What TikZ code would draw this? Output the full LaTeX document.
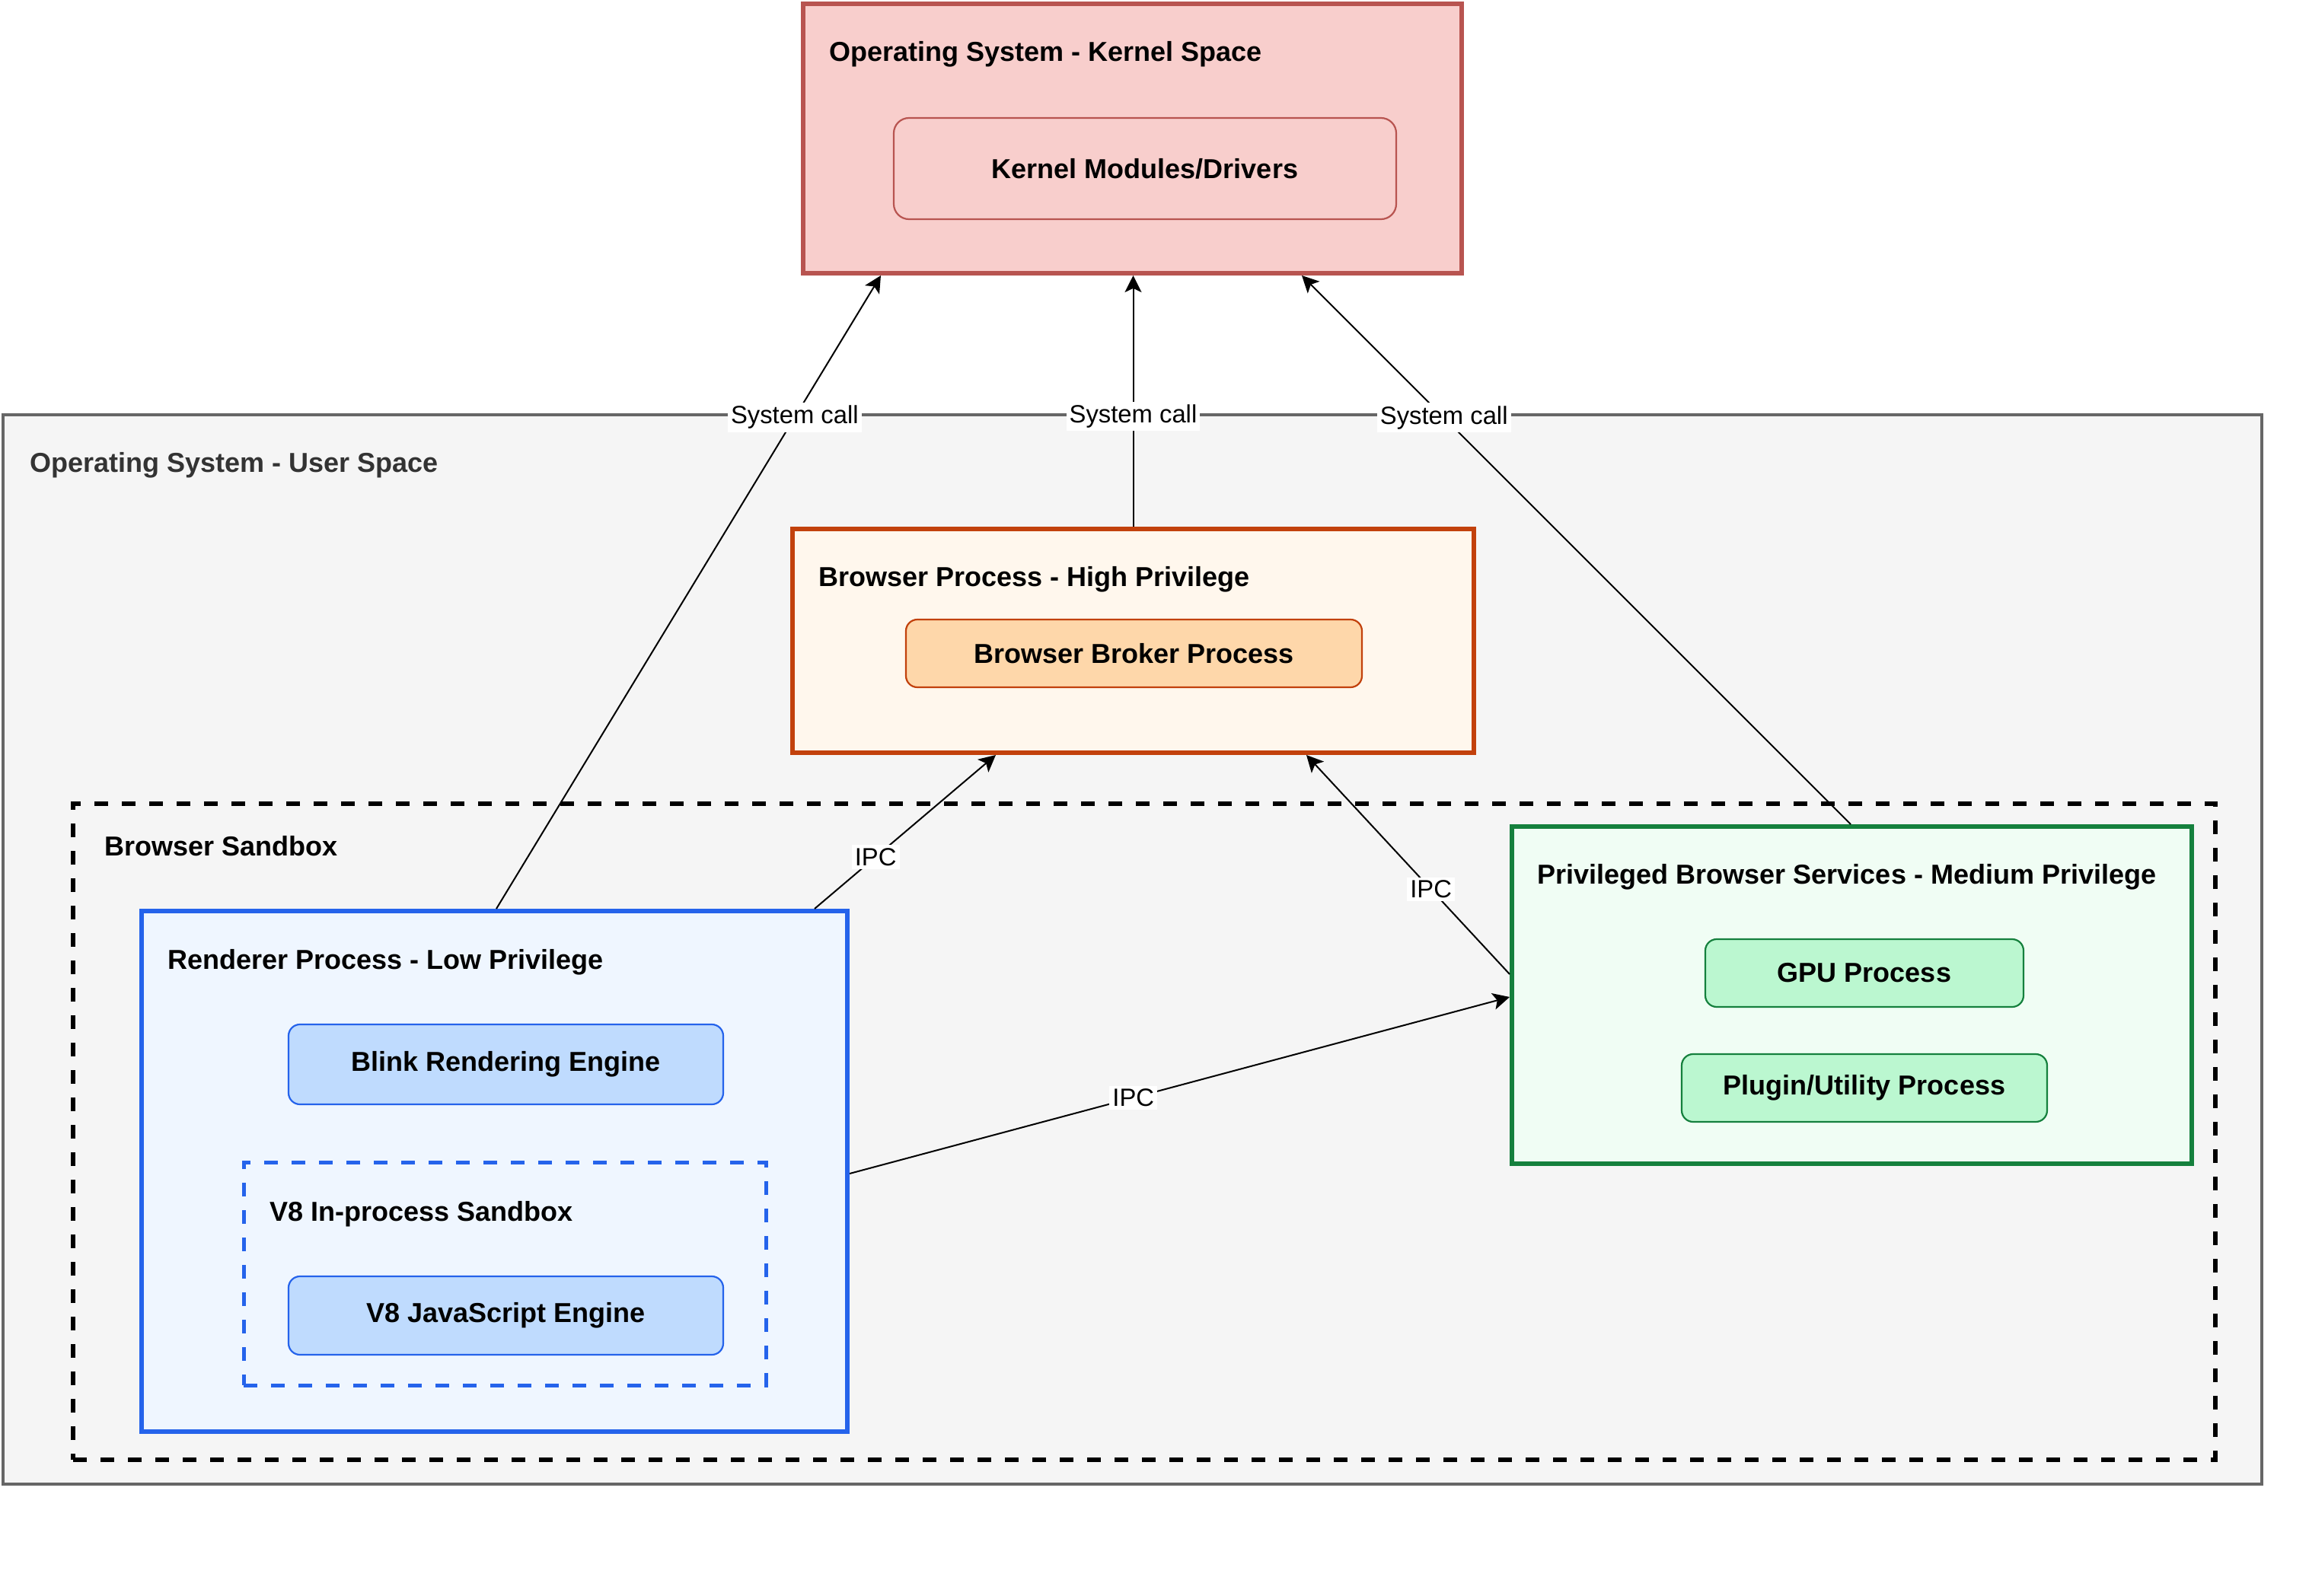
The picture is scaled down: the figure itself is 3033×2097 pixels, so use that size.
\documentclass[tikz,border=0pt]{standalone}
\usepackage{fontspec}
\setmainfont{Liberation Sans}
\usetikzlibrary{fit,arrows.meta}
\definecolor{kernFill}{HTML}{F8CECC}
\definecolor{kernDraw}{HTML}{B85450}
\definecolor{userFill}{HTML}{F5F5F5}
\definecolor{userDraw}{HTML}{666666}
\definecolor{userText}{HTML}{333333}
\definecolor{browFill}{HTML}{FFF7ED}
\definecolor{browDraw}{HTML}{C2410C}
\definecolor{brokFill}{HTML}{FED7AA}
\definecolor{rendFill}{HTML}{EFF6FF}
\definecolor{rendDraw}{HTML}{2563EB}
\definecolor{blinkFill}{HTML}{BFDBFE}
\definecolor{privFill}{HTML}{F0FDF4}
\definecolor{privDraw}{HTML}{15803D}
\definecolor{gpuFill}{HTML}{BBF7D0}
\tikzset{
  region/.style={rectangle, inner sep=0pt, line width=1.5pt},
  inbox/.style={rectangle, inner sep=0pt, line width=0.55pt, rounded corners=3.75pt,
    font=\fontsize{9}{11}\selectfont\bfseries},
  ttl/.style={anchor=mid west, inner sep=0pt, font=\fontsize{9}{11}\selectfont\bfseries},
  arr/.style={line width=0.5pt, -{Stealth[length=5.5pt,width=5.5pt,inset=1.3pt]}},
  lab/.style={fill=white, inner sep=1pt, font=\fontsize{8.2}{10}\selectfont}
}
\begin{document}
\begin{tikzpicture}[x=0.25pt,y=-0.25pt]
\useasboundingbox (0,0) rectangle (3033,2097);
\fill[white] (0,0) rectangle (3033,2097);

% helper x positions
\coordinate (xa) at (652,0);
\coordinate (xb) at (1157,0);
\coordinate (xc) at (2431,0);
\coordinate (xd) at (1710,0);
\coordinate (xe) at (1070,0);
\coordinate (xf) at (1308,0);
\coordinate (xg) at (1716,0);
\coordinate (ya) at (0,1280);
\coordinate (yb) at (0,1542);
\coordinate (yc) at (0,1310);

% kernel space
\node[region, draw=kernDraw, fill=kernFill, fit={(1055,5) (1920,359)}] (kern) {};
\node[ttl] (kernT) at (1089,70) {Operating System - Kernel Space};
\node[inbox, draw=kernDraw, fill=kernFill, rounded corners=5pt, fit={(1174,155) (1834,288)}] (kmod) {};
\node[font=\fontsize{9}{11}\selectfont\bfseries] (kmodT) at (kmod.center) {Kernel Modules/Drivers};

% user space
\node[region, line width=1.2pt, draw=userDraw, fill=userFill, fit={(4,545) (2971,1950)}] (user) {};
\node[ttl, text=userText] (userT) at (39,610) {Operating System - User Space};

% browser process
\node[region, draw=browDraw, fill=browFill, fit={(1041,695) (1936,989)}] (brow) {};
\node[ttl] (browT) at (1075,760) {Browser Process - High Privilege};
\node[inbox, draw=browDraw, fill=brokFill, fit={(1190,814) (1789,903)}] (brok) {};
\node[font=\fontsize{9}{11}\selectfont\bfseries] (brokT) at (brok.center) {Browser Broker Process};

% browser sandbox
\node[region, line width=1.35pt, draw=black, dash pattern=on 4.5pt off 4.5pt, fit={(96,1056) (2910,1918)}] (sbox) {};
\node[ttl] (sboxT) at (137,1114) {Browser Sandbox};

% renderer
\node[region, draw=rendDraw, fill=rendFill, fit={(186,1197) (1113,1881)}] (rend) {};
\node[ttl] (rendT) at (220,1263) {Renderer Process - Low Privilege};
\node[inbox, draw=rendDraw, fill=blinkFill, fit={(379,1346) (950,1451)}] (blink) {};
\node[font=\fontsize{9}{11}\selectfont\bfseries] (blinkT) at (blink.center) {Blink Rendering Engine};
\node[region, line width=1.25pt, draw=rendDraw, dash pattern=on 4.5pt off 4.5pt, fit={(320,1527) (1006,1820)}] (v8sb) {};
\node[ttl] (v8sbT) at (354,1594) {V8 In-process Sandbox};
\node[inbox, draw=rendDraw, fill=blinkFill, fit={(379,1677) (950,1780)}] (v8) {};
\node[font=\fontsize{9}{11}\selectfont\bfseries] (v8T) at (v8.center) {V8 JavaScript Engine};

% privileged services
\node[region, draw=privDraw, fill=privFill, fit={(1986,1086) (2879,1529)}] (priv) {};
\node[ttl] (privT) at (2019,1151) {Privileged Browser Services - Medium Privilege};
\node[inbox, draw=privDraw, fill=gpuFill, fit={(2240,1234) (2658,1323)}] (gpu) {};
\node[font=\fontsize{9}{11}\selectfont\bfseries] (gpuT) at (gpu.center) {GPU Process};
\node[inbox, draw=privDraw, fill=gpuFill, fit={(2209,1385) (2689,1474)}] (plug) {};
\node[font=\fontsize{9}{11}\selectfont\bfseries] (plugT) at (plug.center) {Plugin/Utility Process};

% connectors
\draw[arr] (rend.north -| xa) -- node[lab, pos=0.776] {System call} (kern.south -| xb);
\draw[arr] (brow.north) -- node[lab, pos=0.44] {System call} (brow.north |- kern.south);
\draw[arr] (priv.north -| xc) -- node[lab, pos=0.741] {System call} (kern.south -| xd);
\draw[arr] (rend.north -| xe) -- node[lab, pos=0.337] {IPC} (brow.south -| xf);
\draw[arr] (priv.west |- ya) -- node[lab, pos=0.387] {IPC} (brow.south -| xg);
\draw[arr] (rend.east |- yb) -- node[lab, pos=0.43] {IPC} (priv.west |- yc);
\end{tikzpicture}
\end{document}
